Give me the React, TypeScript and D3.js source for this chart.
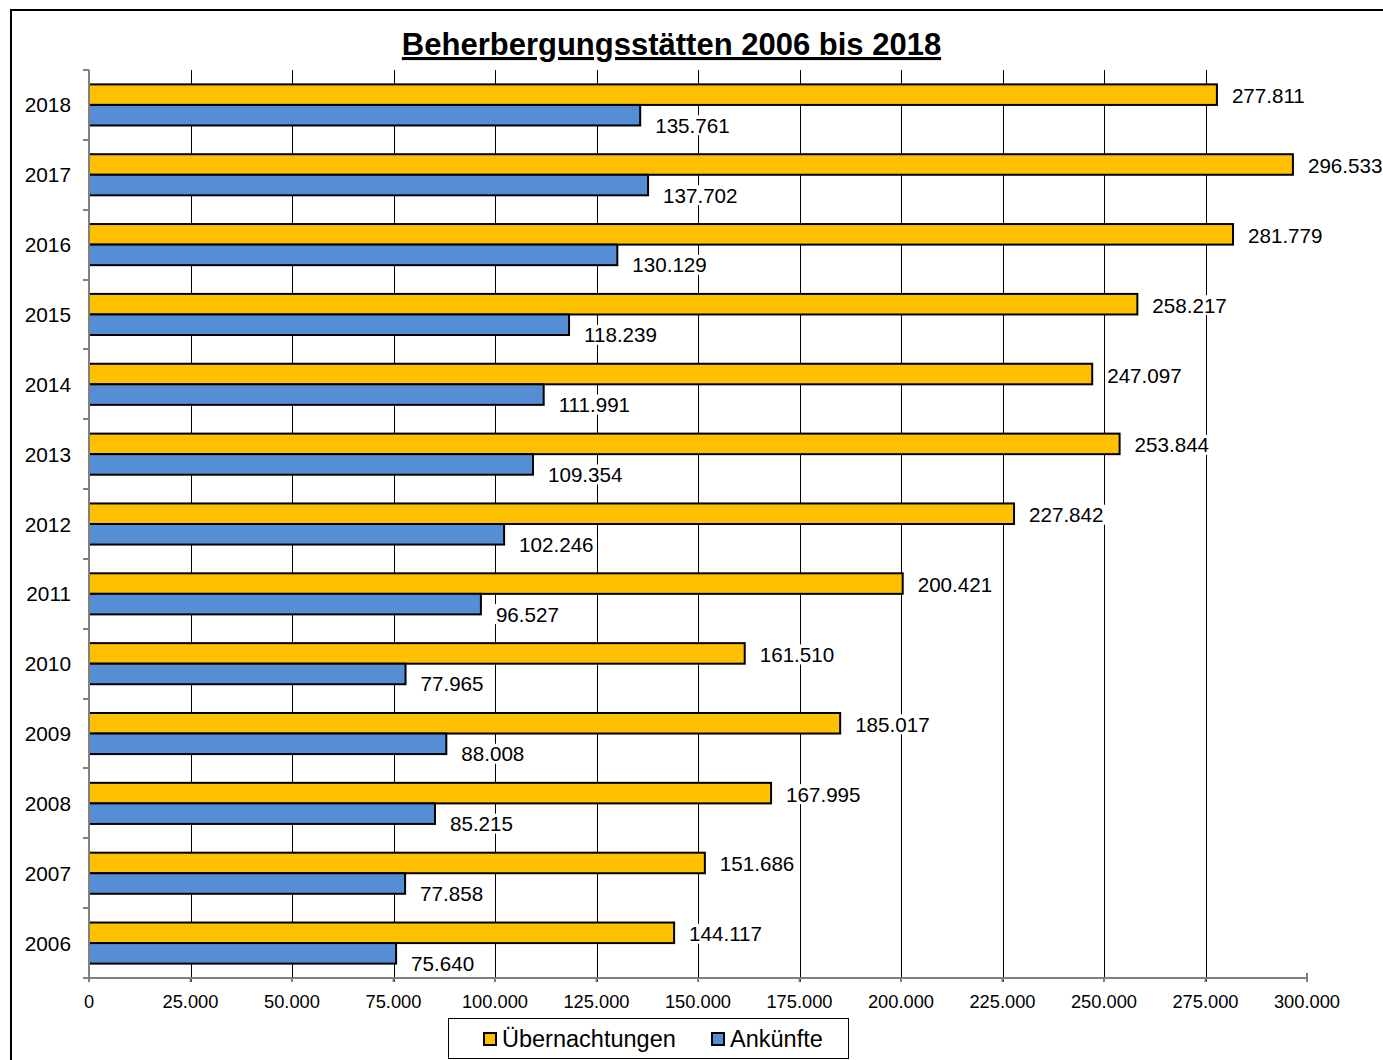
import React from "react";
import * as d3 from "d3";

const years = ["2018","2017","2016","2015","2014","2013","2012","2011","2010","2009","2008","2007","2006"];
const uebernachtungen = [277811,296533,281779,258217,247097,253844,227842,200421,161510,185017,167995,151686,144117];
const ankuenfte = [135761,137702,130129,118239,111991,109354,102246,96527,77965,88008,85215,77858,75640];
const seriesNames = ["Übernachtungen","Ankünfte"];
const seriesColors = ["#FFC000","#558ED5"];
const xTicks = [0,25000,50000,75000,100000,125000,150000,175000,200000,225000,250000,275000,300000];
const title = "Beherbergungsstätten 2006 bis 2018";

const fmt = (v: number) => String(v).replace(/\B(?=(\d{3})+(?!\d))/g, ".");

export default function App() {
  const W = 1383, H = 1060;
  const left = 89, right = 1307, top = 70, bottom = 978;
  const x = d3.scaleLinear().domain([0, 300000]).range([left, right]);
  const y0 = d3.scaleBand<string>().domain(years).range([top, bottom]).padding(0);
  const y1 = d3.scaleBand<string>().domain(seriesNames).range([0, y0.bandwidth()]).paddingInner(0).paddingOuter(0.7);
  const font = "Liberation Sans, Arial, sans-serif";
  const data = [uebernachtungen, ankuenfte];
  const lfs = 20.6;

  return (
    <svg width={W} height={H} style={{ position: "absolute", left: 0, top: 0, background: "#fff" }} fontFamily={font}>
      <rect x={0} y={0} width={W} height={H} fill="#fff" />
      <rect x={11} y={10} width={1420} height={1100} fill="none" stroke="#000" strokeWidth={2} />
      <text x={671.5} y={55} textAnchor="middle" fontSize={31} fontWeight="bold" textDecoration="underline">{title}</text>

      {/* gridlines */}
      {xTicks.filter(t => t > 0 && t < 300000).map(t => (
        <line key={"g" + t} x1={Math.round(x(t)) + 0.5} x2={Math.round(x(t)) + 0.5} y1={top} y2={bottom + 4} stroke="#000" strokeWidth={1} />
      ))}

      {/* bars */}
      {years.map((yr, i) => (
        <g key={yr} transform={`translate(0,${y0(yr)})`}>
          {seriesNames.map((s, j) => (
            <rect key={s} x={left} y={y1(s)} width={x(data[j][i]) - left} height={y1.bandwidth()} fill={seriesColors[j]} stroke="#000" strokeWidth={2} />
          ))}
        </g>
      ))}

      {/* labels */}
      {years.map((yr, i) => (
        <g key={"l" + yr}>
          {seriesNames.map((s, j) => {
            const lx = x(data[j][i]) + 15;
            const ly = (y0(yr) as number) + (y1(s) as number) + y1.bandwidth() / 2 + (j === 0 ? 1 : 10);
            const txt = fmt(data[j][i]);
            const tw = txt.length * lfs * 0.52;
            return (
              <g key={s}>
                <rect x={lx - 2} y={ly - 10} width={tw + 4} height={20} fill="#fff" />
                <text x={lx} y={ly} dominantBaseline="central" fontSize={lfs}>{txt}</text>
              </g>
            );
          })}
        </g>
      ))}

      {/* y axis */}
      <line x1={left} x2={left} y1={top} y2={bottom} stroke="#808080" strokeWidth={2} />
      {years.map((yr) => (
        <line key={"yt" + yr} x1={left - 6} x2={left} y1={Math.round(y0(yr) as number)} y2={Math.round(y0(yr) as number)} stroke="#808080" strokeWidth={2} />
      ))}
      <line x1={left - 6} x2={left} y1={bottom} y2={bottom} stroke="#808080" strokeWidth={2} />
      {years.map((yr) => (
        <text key={"yl" + yr} x={71} y={(y0(yr) as number) + y0.bandwidth() / 2} textAnchor="end" dominantBaseline="central" fontSize={20.8}>{yr}</text>
      ))}

      {/* x axis */}
      <line x1={left} x2={right} y1={bottom} y2={bottom} stroke="#808080" strokeWidth={2} />
      {xTicks.map(t => (
        <line key={"xt" + t} x1={x(t)} x2={x(t)} y1={t === 300000 ? bottom - 5 : bottom} y2={bottom + 4} stroke="#808080" strokeWidth={2} />
      ))}
      {xTicks.map(t => (
        <text key={"xl" + t} x={x(t)} y={1001} textAnchor="middle" dominantBaseline="central" fontSize={18.3}>{fmt(t)}</text>
      ))}

      {/* legend */}
      <rect x={448.5} y={1018.5} width={400} height={40} fill="#fff" stroke="#000" strokeWidth={1} />
      {seriesNames.map((s, j) => {
        const lx = j === 0 ? 484 : 712;
        return (
          <g key={"lg" + s}>
            <rect x={lx} y={1033} width={12} height={12} fill={seriesColors[j]} stroke="#000" strokeWidth={2} />
            <text x={lx + 18} y={1047} fontSize={23.5}>{s}</text>
          </g>
        );
      })}
    </svg>
  );
}
